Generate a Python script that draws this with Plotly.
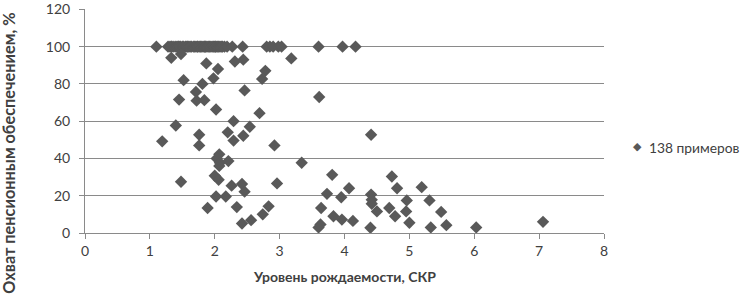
import plotly.graph_objects as go

# Fertility rate (TFR) for each of the 138 examples
fertility = [
    # coverage = 100
    1.10, 1.28, 1.31, 1.33, 1.34, 1.37, 1.40, 1.42, 1.44, 1.45, 1.47, 1.50, 1.52, 1.55,
    1.57, 1.58, 1.60, 1.62, 1.64, 1.67, 1.69, 1.71, 1.73, 1.74, 1.76, 1.78, 1.80, 1.82,
    1.84, 1.85, 1.86, 1.88, 1.90, 1.92, 1.94, 1.96, 1.98, 2.00, 2.01, 2.02, 2.04, 2.06,
    2.08, 2.10, 2.12, 2.15, 2.19, 2.27, 2.43, 2.80, 2.85, 2.90, 2.98, 3.03, 3.60, 3.97,
    4.17,
    # other coverage levels
    1.33, 1.48, 1.87, 2.05, 1.98, 2.31, 2.44, 2.78, 2.73, 1.52, 1.81, 2.46, 1.71, 1.45,
    1.72, 1.84, 2.02, 2.69, 2.29, 1.40, 2.20, 2.54, 2.44, 1.76, 1.19, 1.76, 2.29, 2.92,
    2.07, 2.03, 2.08, 2.21, 2.07, 1.48, 2.00, 2.06, 2.26, 2.42, 2.46, 2.96, 2.02, 2.17,
    1.89, 2.34, 2.83, 2.74, 2.42, 2.56, 3.18, 3.61, 4.41, 3.34, 3.81, 3.73, 4.07, 3.95,
    3.64, 3.63, 3.60, 3.83, 3.96, 4.13, 4.41, 4.42, 4.42, 4.50, 4.40, 4.73, 4.81, 4.69,
    4.78, 4.96, 4.95, 5.00, 5.19, 5.31, 5.49, 5.33, 5.57, 6.03, 7.06,
]

# Pension coverage, %
coverage = [
    100, 100, 100, 100, 100, 100, 100, 100, 100, 100, 100, 100, 100, 100,
    100, 100, 100, 100, 100, 100, 100, 100, 100, 100, 100, 100, 100, 100,
    100, 100, 100, 100, 100, 100, 100, 100, 100, 100, 100, 100, 100, 100,
    100, 100, 100, 100, 100, 100, 100, 100, 100, 100, 100, 100, 100, 100,
    100,
    94.0, 96.0, 91.0, 88.0, 83.0, 92.0, 93.0, 87.0, 82.7, 82.0, 80.0, 76.5, 75.7, 71.6,
    71.0, 71.3, 66.3, 64.3, 60.0, 57.7, 54.0, 57.0, 52.2, 52.7, 49.2, 47.0, 49.6, 47.0,
    42.2, 40.0, 37.7, 38.6, 36.0, 27.5, 30.7, 28.6, 25.4, 26.3, 22.2, 26.6, 19.6, 19.6,
    13.4, 13.9, 14.3, 10.0, 5.1, 6.9, 93.7, 73.0, 52.7, 37.7, 31.2, 21.0, 24.0, 19.2,
    13.4, 4.6, 3.0, 9.0, 7.2, 6.5, 20.6, 17.8, 15.7, 11.6, 2.8, 30.3, 24.0, 13.4,
    9.0, 17.5, 11.6, 5.5, 24.6, 17.5, 11.3, 3.0, 4.2, 3.0, 6.0,
]

x_ticks = [0, 1, 2, 3, 4, 5, 6, 7, 8]
y_ticks = [0, 20, 40, 60, 80, 100, 120]

series_name = "138 примеров"
x_title = "Уровень рождаемости, СКР"
y_title = "Охват пенсионным обеспечением, %"

FONT = "Lato, 'Open Sans', sans-serif"
GRID = "#8a8a8a"
MARK = "#595959"
TXT = "#404040"

fig = go.Figure()
fig.add_trace(go.Scatter(
    x=fertility, y=coverage, mode="markers", name=series_name,
    marker=dict(symbol="diamond", size=9.5, color=MARK, line=dict(width=0)),
))

fig.update_layout(
    width=743, height=302,
    margin=dict(l=85, r=139, t=9, b=69, autoexpand=False),
    paper_bgcolor="white", plot_bgcolor="white",
    font=dict(family=FONT, size=14, color=TXT),
    showlegend=False,
    xaxis=dict(range=[0, 8], tickvals=x_ticks, ticktext=[str(v) for v in x_ticks],
               showgrid=False, zeroline=False, showline=True, linecolor=GRID, linewidth=1,
               ticks="outside", ticklen=5, tickcolor=GRID, mirror=False, automargin=False,
               tickfont=dict(family=FONT, size=14, color=TXT)),
    yaxis=dict(range=[0, 120.2], tickvals=y_ticks, ticktext=[str(v) for v in y_ticks],
               showgrid=True, gridcolor=GRID, gridwidth=1, zeroline=False,
               showline=True, linecolor=GRID, linewidth=1, automargin=False,
               ticks="outside", ticklen=5, tickcolor=GRID, ticklabelstandoff=6,
               ticklabeloverflow="allow",
               tickfont=dict(family=FONT, size=14, color=TXT)),
    annotations=[
        dict(text=f"<b>{x_title}</b>", xref="paper", yref="paper", x=0.5, y=-0.195,
             xanchor="center", yanchor="middle", showarrow=False,
             font=dict(family=FONT, size=14, color=TXT)),
        dict(text=f"<b>{y_title}</b>", xref="paper", yref="paper", x=-0.148, y=0.355,
             xanchor="center", yanchor="middle", showarrow=False, textangle=-90,
             font=dict(family=FONT, size=16.3, color=TXT)),
        # legend
        dict(text="◆", xref="paper", yref="paper", x=1.0636, y=0.385,
             xanchor="center", yanchor="middle", showarrow=False,
             font=dict(family="DejaVu Sans", size=11, color=MARK)),
        dict(text=series_name, xref="paper", yref="paper", x=1.083, y=0.383,
             xanchor="left", yanchor="middle", showarrow=False,
             font=dict(family=FONT, size=13.8, color=TXT)),
    ],
)

fig.write_html("out.html", config={"displayModeBar": False},
               post_script="document.body.style.margin='0';document.body.style.padding='0';")
